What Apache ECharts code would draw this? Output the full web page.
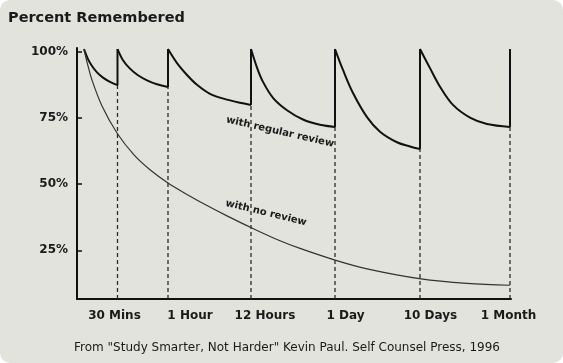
<!DOCTYPE html>
<html>
<head>
<meta charset="utf-8">
<script src="https://cdn.jsdelivr.net/npm/echarts@6/dist/echarts.min.js"></script>
<style>
  html, body { margin: 0; padding: 0; background: #ffffff; }
  #chart { width: 563px; height: 363px; background: #e2e3dc; border-radius: 10px; box-sizing: border-box; }
</style>
</head>
<body>
<div id="chart"></div>
<script>
// ---- Data (x = position on the review timeline, y = percent remembered) ----
const xLabels = ['30 Mins', '1 Hour', '12 Hours', '1 Day', '10 Days', '1 Month'];
const xLabelPos = [37.5, 113, 188, 268.5, 353.5, 431.5];
const reviewPoints = [40.5, 91, 174, 258, 343, 433];
const peakValue = 101;
const yTicks = [25, 50, 75, 100];

const seg1 = [[7, 101], [11, 97.2], [15, 94.6], [20, 92.2], [26, 90.2], [33, 88.6], [40.5, 87.4]];
const seg2 = [[40.5, 101], [46, 96.8], [53, 93.6], [61, 91.1], [70, 89.2], [80, 87.7], [91, 86.7]];
const seg3 = [[91, 101], [100, 95.7], [110, 91.2], [120, 87.5], [133, 84.1], [150, 81.9], [166, 80.5], [174, 79.9]];
const seg4 = [[174, 101], [180, 94.0], [186, 88.6], [196, 82.6], [210, 77.9], [226, 74.4], [243, 72.4], [258, 71.6]];
const seg5 = [[258, 101], [266, 93.1], [276, 84.4], [290, 75.3], [303, 69.8], [320, 65.8], [333, 64.2], [343, 63.25]];
const seg6 = [[343, 101], [353, 93.8], [363, 86.8], [376, 79.9], [393, 75.1], [410, 72.7], [433, 71.6]];
const reviewSegments = [seg1, seg2, seg3, seg4, seg5, seg6];

const noReview = [[7, 101], [10, 96.1], [15, 89.3], [25, 79.5], [40, 69.3], [57, 61.0], [73, 55.4],
  [91, 50.4], [110, 46.1], [130, 41.9], [150, 38.0], [175, 33.4], [203, 28.6], [223, 25.7],
  [258, 21.3], [290, 18.0], [344, 14.2], [390, 12.5], [433, 11.8]];

const yMin = 6.6, yMax = 101.4, xMin = 0, xMax = 434;

// ---- Build series ----
const font = '"DejaVu Sans", Verdana, sans-serif';
const series = [];
reviewSegments.forEach(function (seg) {
  series.push({ type: 'line', data: seg, smooth: 0.35, symbol: 'none', silent: true,
    lineStyle: { color: '#111', width: 2 } });
});
reviewPoints.forEach(function (x, i) {
  const seg = reviewSegments[i];
  const low = seg[seg.length - 1][1];
  series.push({ type: 'line', data: [[x, low], [x, peakValue]], symbol: 'none', silent: true,
    lineStyle: { color: '#111', width: 2 } });
  series.push({ type: 'line', data: [[x, yMin], [x, low]], symbol: 'none', silent: true, z: 1,
    lineStyle: { color: '#2a2a2a', width: 1.3, type: [4, 3] } });
});
series.push({ type: 'line', data: noReview, smooth: 0.35, symbol: 'none', silent: true,
  lineStyle: { color: '#333', width: 1.2 } });

const chart = echarts.init(document.getElementById('chart'), null, { renderer: 'canvas' });
chart.setOption({
  backgroundColor: 'transparent',
  animation: false,
  grid: { left: 77, right: 52, top: 48, bottom: 64, containLabel: false, outerBoundsMode: 'none' },
  xAxis: {
    type: 'value', min: xMin, max: xMax,
    axisLine: { show: true, lineStyle: { color: '#111', width: 2 } },
    axisTick: { show: false },
    splitLine: { show: false },
    axisLabel: {
      customValues: xLabelPos, margin: 11,
      color: '#1a1a1a', fontFamily: font, fontWeight: 'bold', fontSize: 12,
      formatter: function (v) { const i = xLabelPos.indexOf(v); return i >= 0 ? xLabels[i] : ''; }
    }
  },
  yAxis: {
    type: 'value', min: yMin, max: yMax,
    axisLine: { show: true, lineStyle: { color: '#111', width: 2 } },
    axisTick: { show: true, inside: true, length: 5, customValues: yTicks, lineStyle: { color: '#111', width: 1.5 } },
    splitLine: { show: false },
    axisLabel: {
      customValues: yTicks, margin: 9,
      color: '#1a1a1a', fontFamily: font, fontWeight: 'bold', fontSize: 12,
      formatter: '{value}%'
    }
  },
  graphic: [
    { type: 'text', left: 8, top: 11, style: { text: 'Percent Remembered', fill: '#1a1a1a',
      font: 'bold 14.5px ' + font } },
    { type: 'text', x: 280, y: 132, rotation: -0.225, style: { text: 'with regular review', fill: '#1a1a1a',
      font: 'bold 10px ' + font, align: 'center', verticalAlign: 'middle' } },
    { type: 'text', x: 266, y: 213, rotation: -0.24, style: { text: 'with no review', fill: '#1a1a1a',
      font: 'bold 10px ' + font, align: 'center', verticalAlign: 'middle' } },
    { type: 'text', x: 287, y: 348, style: { text: 'From "Study Smarter, Not Harder" Kevin Paul. Self Counsel Press, 1996',
      fill: '#1a1a1a', font: '12px ' + font, align: 'center', verticalAlign: 'middle' } }
  ],
  series: series
});
</script>
</body>
</html>
